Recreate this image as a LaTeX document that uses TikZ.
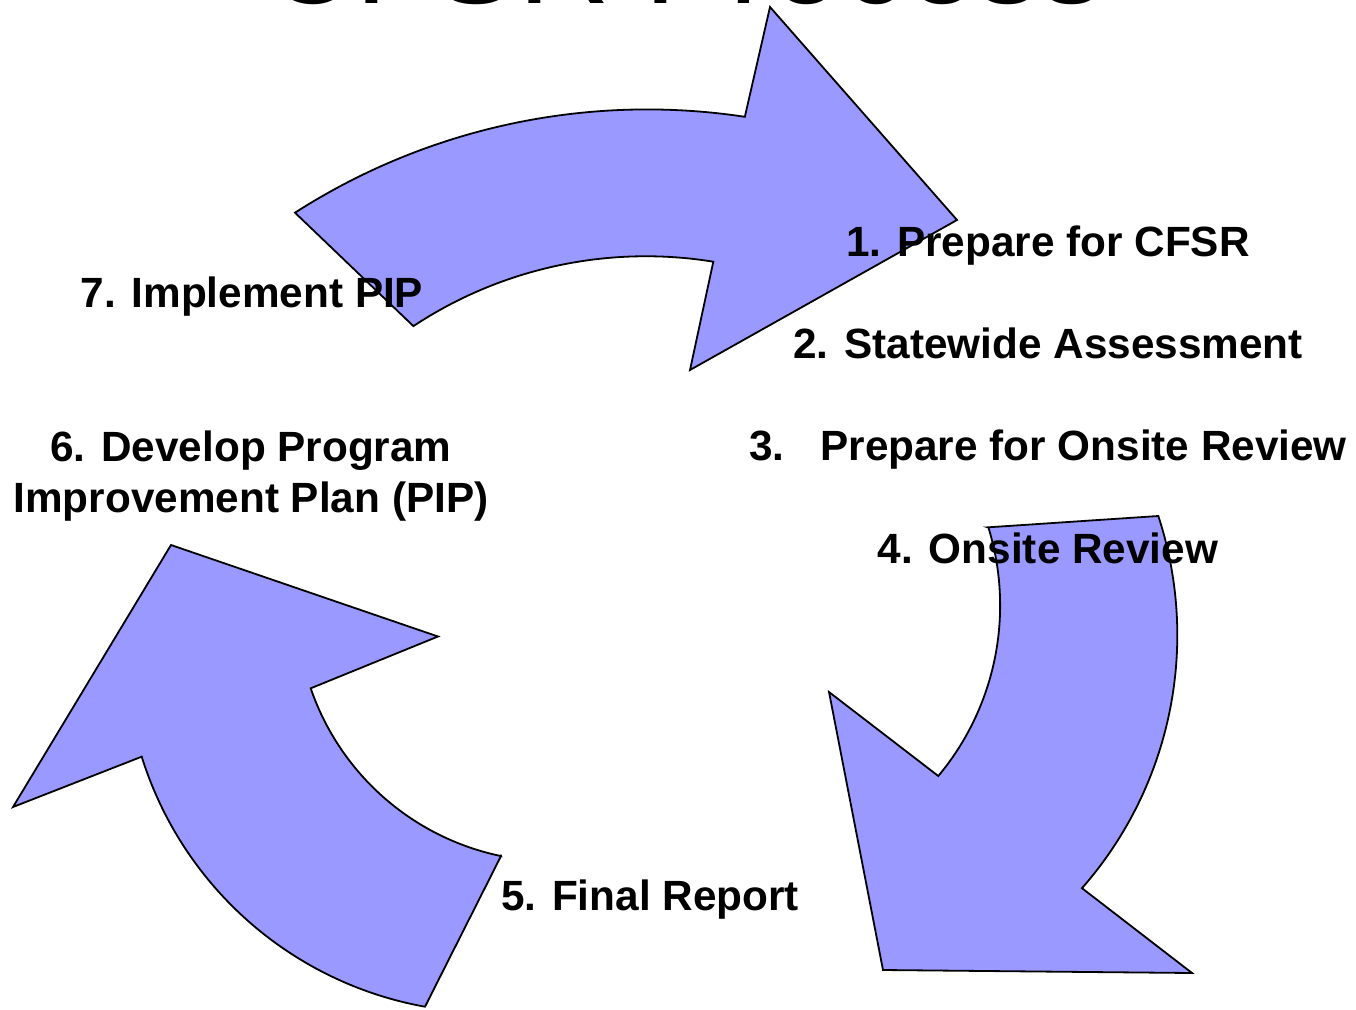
\documentclass[tikz,border=0pt]{standalone}
\usepackage{fontspec}
\setmainfont{Liberation Sans}
\definecolor{arrowblue}{RGB}{153,153,255}
\tikzset{
    cyclearrow/.style={fill=arrowblue, draw=black, line width=1.8pt, line join=miter},
    steplabel/.style={anchor=base, inner sep=0pt, font=\bfseries\fontsize{42.3}{51}\selectfont},
}
\begin{document}
\begin{tikzpicture}[x=1pt, y=-1pt]
                \useasboundingbox (0,0) rectangle (1356,1009);
                \node[anchor=base, inner sep=0pt, font=\fontsize{127}{150}\selectfont] (title) at (684,3) {CFSR Process};
                \draw[cyclearrow] (295,212.7) arc[start angle=237.31, end angle=278.62, radius=652]
                    -- (770,7) -- (957,220) -- (690,370)
                    -- (713.3,261.7) arc[start angle=279.22, end angle=236.54, radius=421.5] -- cycle;
                \draw[cyclearrow] (988.3,527.3)
                    -- (1158.3,516) arc[start angle=-18.11, end angle=41.29, radius=383.4]
                    -- (1192,973) -- (883,970) -- (829,692)
                    -- (938.3,776) arc[start angle=39.86, end angle=-17.1, radius=266] -- cycle;
                \draw[cyclearrow] (501,856)
                    -- (425,1006.7) arc[start angle=100.21, end angle=162.65, radius=364.5]
                    -- (13,807) -- (171,545) -- (438,636.5)
                    -- (310.7,688.3) arc[start angle=161.06, end angle=101.73, radius=256.3] -- cycle;
                \node[steplabel] (prepare) at (1048,256) {1. Prepare for CFSR};
                \node[steplabel] (assess) at (1048,358) {2. Statewide Assessment};
                \node[steplabel] (onsiteprep) at (1048,460) {3.\hspace{36pt}Prepare for Onsite Review};
                \node[steplabel] (onsite) at (1048,563) {4. Onsite Review};
                \node[steplabel] (report) at (650,910) {5. Final Report};
                \node[steplabel, anchor=center, align=center] (develop) at (251,476) {6. Develop Program\\Improvement Plan (PIP)};
                \node[steplabel] (implement) at (252,307) {7. Implement PIP};
            \end{tikzpicture}
\end{document}
